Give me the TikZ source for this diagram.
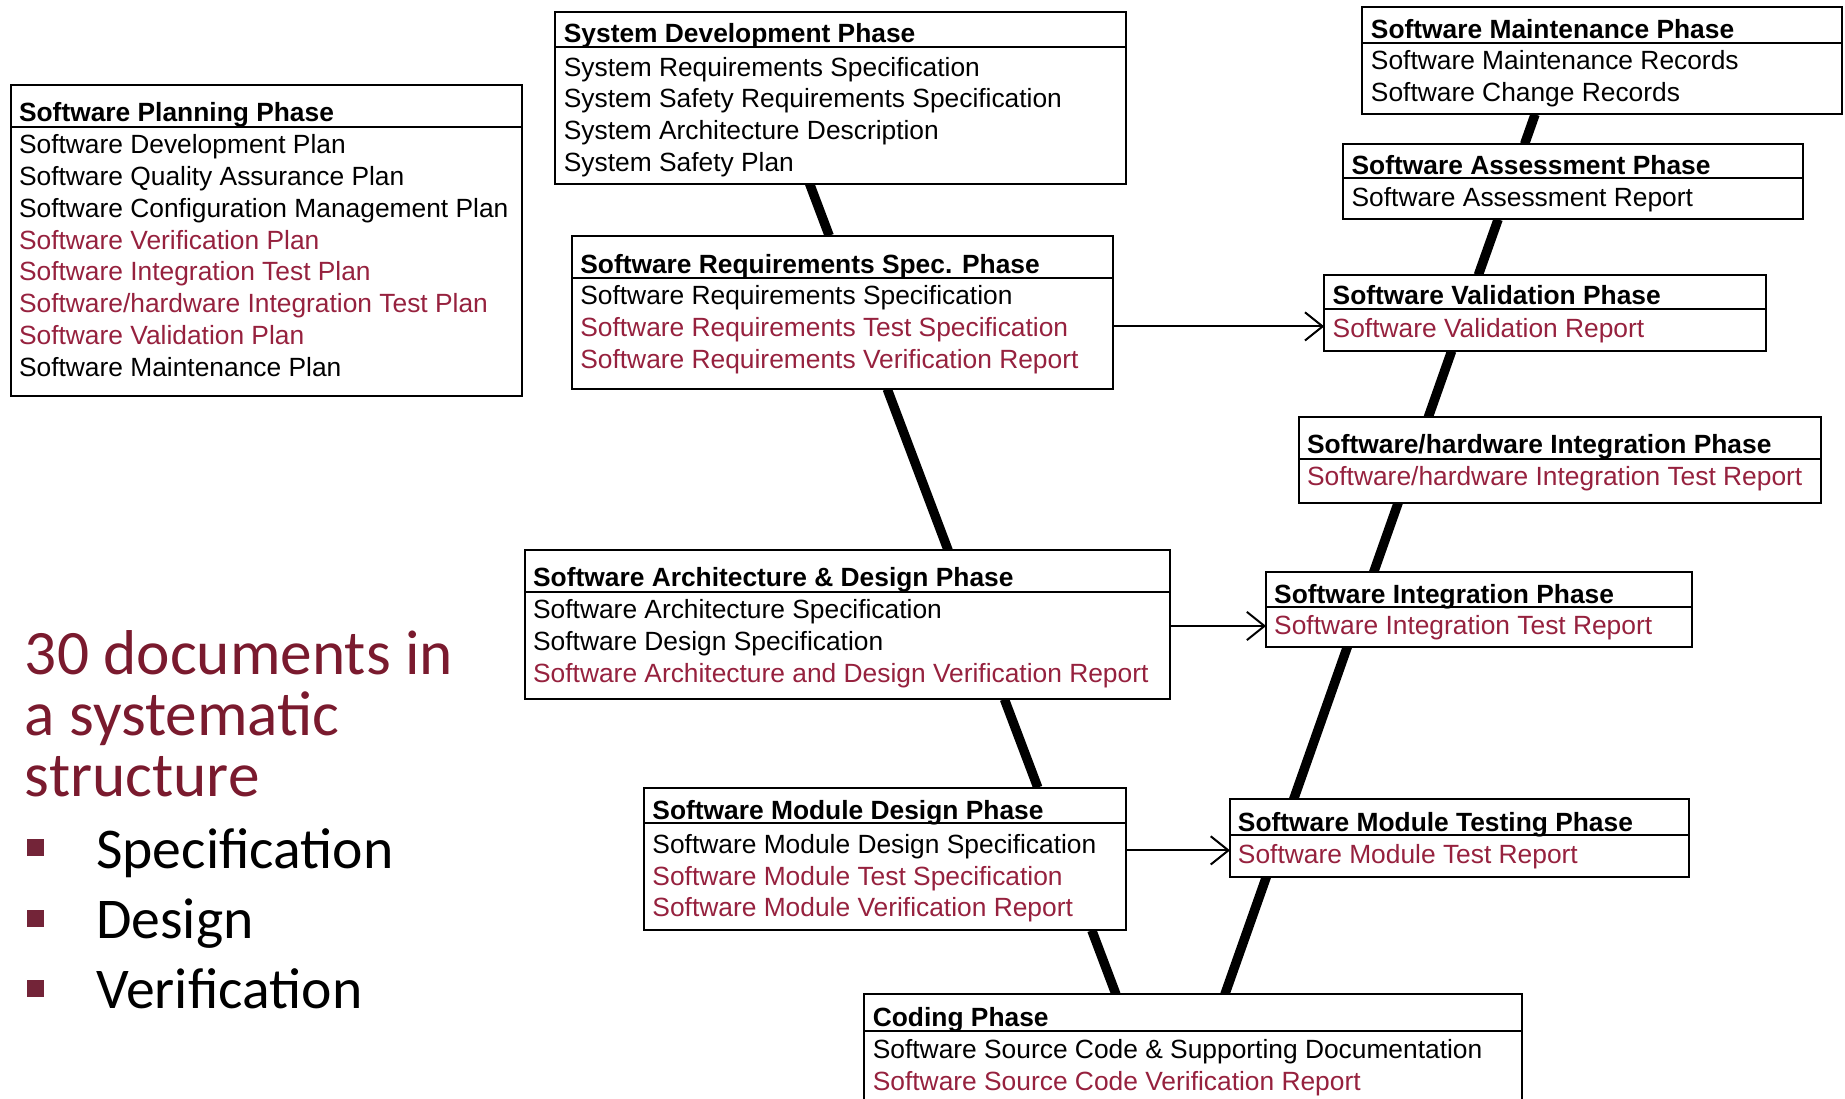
\documentclass[tikz,border=0pt]{standalone}
\usepackage{fontspec}
\setmainfont{Liberation Sans}
\newfontfamily\slidefont{Carlito}
\usetikzlibrary{arrows.meta,calc,backgrounds}

\definecolor{docred}{RGB}{150,33,62}
\definecolor{headred}{RGB}{122,26,46}
\definecolor{dotred}{RGB}{115,36,56}

\begin{document}
\begin{tikzpicture}[x=1pt, y=-1pt,
    phase/.style = {draw, fill=white, line width=1.7pt, anchor=north west, inner sep=0pt, outer sep=0pt},
    ptitle/.style = {anchor=base west, inner sep=0pt, font=\bfseries\fontsize{22.4}{27.1}\selectfont},
    docs/.style = {anchor=base west, inner sep=0pt, align=left, font=\fontsize{22.4}{27.1}\selectfont},
    rule/.style = {line width=2pt},
    leg/.style = {line width=8pt},
    flow/.style = {line width=1.7pt, -{Straight Barb[length=15pt, width=24pt, line width=1.7pt]}},
    dot/.style = {fill=dotred, minimum size=14.4pt, inner sep=0pt},
    bigtext/.style = {anchor=base west, inner sep=0pt, align=left, text=headred, font=\slidefont\fontsize{53.8}{52}\selectfont},
    item/.style = {anchor=base west, inner sep=0pt, font=\slidefont\fontsize{49}{60}\selectfont}]
    \useasboundingbox (0,0) rectangle (1568,934);

    % left side of the V (document lists sit on their last baseline)
    \node[phase, minimum width=435pt, minimum height=264.1pt] (plan) at (9,72.2) {};
    \draw[rule] ($(plan.north west)+(0,35.5)$) -- ($(plan.north east)+(0,35.5)$);
    \node[ptitle] (plan-t) at (16,103.4) {Software Planning Phase};
    \node[docs] (plan-d) at (16,320.1) {Software Development Plan\\
        Software Quality Assurance Plan\\
        Software Configuration Management Plan\\
        \textcolor{docred}{Software Verification Plan}\\
        \textcolor{docred}{Software Integration Test Plan}\\
        \textcolor{docred}{Software/hardware Integration Test Plan}\\
        \textcolor{docred}{Software Validation Plan}\\
        Software Maintenance Plan};

    \node[phase, minimum width=485pt, minimum height=146.1pt] (sysdev) at (472,9.9) {};
    \draw[rule] ($(sysdev.north west)+(0,29.8)$) -- ($(sysdev.north east)+(0,29.8)$);
    \node[ptitle] (sysdev-t) at (479,36.3) {System Development Phase};
    \node[docs] (sysdev-d) at (479,145.9) {System Requirements Specification\\
        System Safety Requirements Specification\\
        System Architecture Description\\
        System Safety Plan};

    \node[phase, minimum width=460pt, minimum height=130.3pt] (swreq) at (486,200.3) {};
    \draw[rule] ($(swreq.north west)+(0,36.2)$) -- ($(swreq.north east)+(0,36.2)$);
    \node[ptitle] (swreq-t) at (493,232.3) {Software Requirements Spec. Phase};
    \node[docs] (swreq-d) at (493,313) {Software Requirements Specification\\
        \textcolor{docred}{Software Requirements Test Specification}\\
        \textcolor{docred}{Software Requirements Verification Report}};

    \node[phase, minimum width=548.2pt, minimum height=126.5pt] (arch) at (445.8,467.7) {};
    \draw[rule] ($(arch.north west)+(0,35.2)$) -- ($(arch.north east)+(0,35.2)$);
    \node[ptitle] (arch-t) at (452.9,498.3) {Software Architecture \& Design Phase};
    \node[docs] (arch-d) at (452.9,580.1) {Software Architecture Specification\\
        Software Design Specification\\
        \textcolor{docred}{Software Architecture and Design Verification Report}};

    \node[phase, minimum width=409.6pt, minimum height=121.4pt] (moddes) at (547.3,669.3) {};
    \draw[rule] ($(moddes.north west)+(0,30.4)$) -- ($(moddes.north east)+(0,30.4)$);
    \node[ptitle] (moddes-t) at (554.3,696.8) {Software Module Design Phase};
    \node[docs] (moddes-d) at (554.3,779.3) {Software Module Design Specification\\
        \textcolor{docred}{Software Module Test Specification}\\
        \textcolor{docred}{Software Module Verification Report}};

    % bottom of the V
    \node[phase, minimum width=558.8pt, minimum height=120pt] (coding) at (734.6,845) {};
    \draw[rule] ($(coding.north west)+(0,31)$) -- ($(coding.north east)+(0,31)$);
    \node[ptitle] (coding-t) at (741.6,872.4) {Coding Phase};
    \node[docs] (coding-d) at (741.6,926.6) {Software Source Code \& Supporting Documentation\\
        \textcolor{docred}{Software Source Code Verification Report}};

    % right side of the V
    \node[phase, minimum width=390.5pt, minimum height=65.7pt] (modtest) at (1045.3,679.3) {};
    \draw[rule] ($(modtest.north west)+(0,30.3)$) -- ($(modtest.north east)+(0,30.3)$);
    \node[ptitle] (modtest-t) at (1051.9,706.8) {Software Module Testing Phase};
    \node[docs] (modtest-d) at (1051.9,733.7) {\textcolor{docred}{Software Module Test Report}};

    \node[phase, minimum width=361.6pt, minimum height=63.2pt] (integ) at (1076,486.4) {};
    \draw[rule] ($(integ.north west)+(0,29.7)$) -- ($(integ.north east)+(0,29.7)$);
    \node[ptitle] (integ-t) at (1082.7,512.7) {Software Integration Phase};
    \node[docs] (integ-d) at (1082.7,539.6) {\textcolor{docred}{Software Integration Test Report}};

    \node[phase, minimum width=443.9pt, minimum height=72.5pt] (swhw) at (1103.7,354.7) {};
    \draw[rule] ($(swhw.north west)+(0,35.4)$) -- ($(swhw.north east)+(0,35.4)$);
    \node[ptitle] (swhw-t) at (1110.7,385.2) {Software/hardware Integration Phase};
    \node[docs] (swhw-d) at (1110.7,412.2) {\textcolor{docred}{Software/hardware Integration Test Report}};

    \node[phase, minimum width=375.1pt, minimum height=64.6pt] (valid) at (1125.4,233.7) {};
    \draw[rule] ($(valid.north west)+(0,28.9)$) -- ($(valid.north east)+(0,28.9)$);
    \node[ptitle] (valid-t) at (1132.4,259.2) {Software Validation Phase};
    \node[docs] (valid-d) at (1132.4,286.7) {\textcolor{docred}{Software Validation Report}};

    \node[phase, minimum width=391.7pt, minimum height=64pt] (assess) at (1141,122.4) {};
    \draw[rule] ($(assess.north west)+(0,28.6)$) -- ($(assess.north east)+(0,28.6)$);
    \node[ptitle] (assess-t) at (1148.5,148.7) {Software Assessment Phase};
    \node[docs] (assess-d) at (1148.5,175.6) {Software Assessment Report};

    \node[phase, minimum width=407.9pt, minimum height=91pt] (maint) at (1157.9,6.2) {};
    \draw[rule] ($(maint.north west)+(0,30.6)$) -- ($(maint.north east)+(0,30.6)$);
    \node[ptitle] (maint-t) at (1164.9,32.6) {Software Maintenance Phase};
    \node[docs] (maint-d) at (1164.9,86.4) {Software Maintenance Records\\
        Software Change Records};

    % the V legs
    \begin{scope}[on background layer]
        \draw[leg] ($(sysdev.south west)+(216,0)$) -- ($(swreq.north west)+(218.7,0)$);
        \draw[leg] ($(swreq.south west)+(268,0)$) -- ($(arch.north west)+(360,0)$);
        \draw[leg] ($(arch.south west)+(407.8,0)$) -- ($(moddes.north west)+(334.7,0)$);
        \draw[leg] ($(moddes.south west)+(380.6,0)$) -- ($(coding.north west)+(213.8,0)$);
        \draw[leg] ($(coding.north west)+(306.4,0)$) -- ($(modtest.south west)+(31,0)$);
        \draw[leg] ($(modtest.north west)+(54.1,0)$) -- ($(integ.south west)+(69.1,0)$);
        \draw[leg] ($(integ.north west)+(91.4,0)$) -- ($(swhw.south west)+(84.6,0)$);
        \draw[leg] ($(swhw.north west)+(110.1,0)$) -- ($(valid.south west)+(108.3,0)$);
        \draw[leg] ($(valid.north west)+(131,0)$) -- ($(assess.south west)+(132.2,0)$);
        \draw[leg] ($(assess.north west)+(154.7,0)$) -- ($(maint.south west)+(146.7,0)$);
    \end{scope}

    % test links across the V
    \draw[flow] (swreq.east |- 0,277.4) -- (valid.west |- 0,277.4);
    \draw[flow] (arch.east |- 0,532) -- (integ.west |- 0,532);
    \draw[flow] (moddes.east |- 0,722.7) -- (modtest.west |- 0,722.7);

    % slide text
    \node[bigtext] (summary) at (21,677) {30 documents in\\a systematic\\structure};
    \node[dot] (dot1) at (30.2,720.3) {};
    \node[dot] (dot2) at (30.2,780.3) {};
    \node[dot] (dot3) at (30.2,840.3) {};
    \node[item] (spec) at (81.6,738) {Specification};
    \node[item] (design) at (81.6,798) {Design};
    \node[item] (verif) at (81.6,857) {Verification};
\end{tikzpicture}
\end{document}
